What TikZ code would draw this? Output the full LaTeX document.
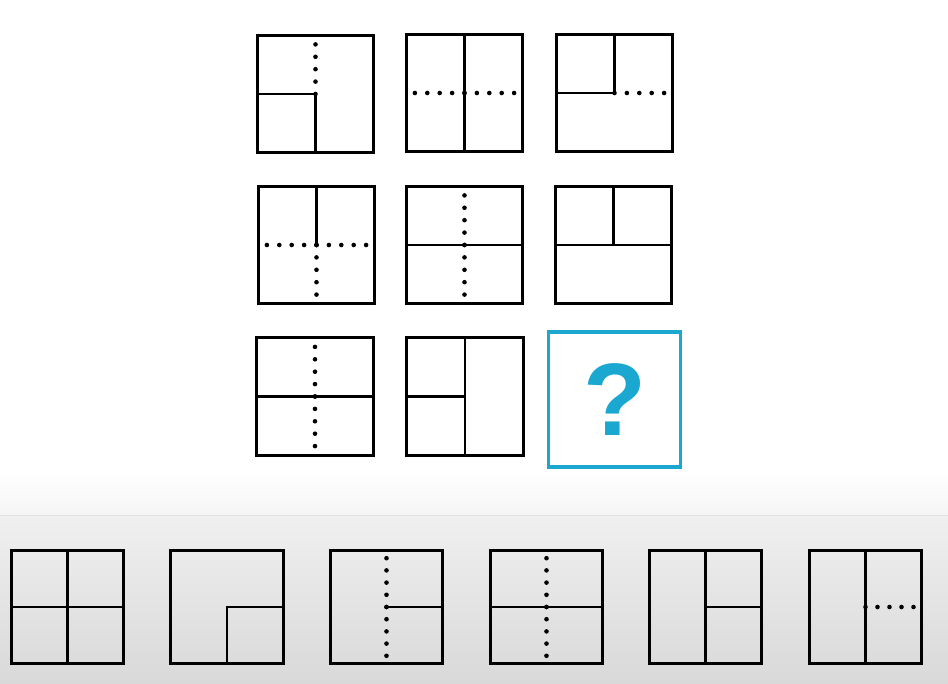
\documentclass[tikz,border=0pt]{standalone}
\usepackage{fontspec}
\setmainfont{Liberation Sans}
\usetikzlibrary{calc}
\definecolor{qblue}{HTML}{1AA8D0}

\begin{document}
\begin{tikzpicture}[
    x = 1pt, y = -1pt,
    line width = 2.6pt,
    cell/.style = {rectangle,
      draw,
      outer sep = 0pt,
      inner sep = 0pt,
      minimum width = 116.5pt,
      minimum height = 117.5pt},
    choice/.style = {cell,
      minimum width = 112.5pt,
      minimum height = 113pt},
    dots/.style = {line width = 4.6pt,
      line cap = round,
      dash pattern = on 0pt off 12.4pt}
    ]
    \useasboundingbox (0, 0) rectangle (948, 684);

    % background of the answer strip
    \shade [top color = white, bottom color = black!4] (0, 470) rectangle (948, 515);
    \shade [top color = black!6, bottom color = black!15] (0, 515) rectangle (948, 684);
    \draw [line width = 1pt, black!12] (0, 515) -- (948, 515);

    % the puzzle
    \node at (315.5, 94) [cell, name = a1] {};
    \node at (464.5, 93) [cell, name = a2] {};
    \node at (614.5, 93) [cell, name = a3] {};
    \node at (316.5, 245) [cell, name = b1] {};
    \node at (464.5, 245) [cell, name = b2] {};
    \node at (613.5, 245) [cell, name = b3] {};
    \node at (315, 396.5) [cell, name = c1] {};
    \node at (465, 396.5) [cell, name = c2] {};
    \node at (614.5, 399.5) [cell, name = q, draw = qblue, text = qblue,
      line width = 3.2pt, minimum width = 132pt, minimum height = 135pt,
      font = \fontsize{103}{103}\selectfont\bfseries] {?};

    \draw (a1.west) -- (a1.center) -- (a1.south);
    \draw [dots] (a1.center) -- ++(0, -50);
    \draw (a2.north) -- (a2.south);
    \draw [dots] (a2.center) -- ++(-50, 0);
    \draw [dots] (a2.center) -- ++(50, 0);
    \draw (a3.north) -- (a3.center) -- (a3.west);
    \draw [dots] (a3.center) -- ++(50, 0);

    \draw (b1.north) -- (b1.center);
    \draw [dots] (b1.center) -- ++(-50, 0);
    \draw [dots] (b1.center) -- ++(50, 0);
    \draw [dots] (b1.center) -- ++(0, 50);
    \draw (b2.west) -- (b2.east);
    \draw [dots] (b2.center) -- ++(0, -50);
    \draw [dots] (b2.center) -- ++(0, 50);
    \draw (b3.west) -- (b3.east);
    \draw (b3.north) -- (b3.center);

    \draw (c1.west) -- (c1.east);
    \draw [dots] (c1.center) -- ++(0, -50);
    \draw [dots] (c1.center) -- ++(0, 50);
    \draw (c2.north) -- (c2.south);
    \draw (c2.west) -- (c2.center);

    % the answers
    \node at (67.5, 607) [choice, name = p1] {};
    \node at (227, 607) [choice, name = p2] {};
    \node at (386.5, 607) [choice, name = p3] {};
    \node at (546.5, 607) [choice, name = p4] {};
    \node at (705.5, 607) [choice, name = p5] {};
    \node at (865.5, 607) [choice, name = p6] {};

    \draw (p1.north) -- (p1.south);
    \draw (p1.west) -- (p1.east);
    \draw (p2.east) -- (p2.center) -- (p2.south);
    \draw (p3.center) -- (p3.east);
    \draw [dots, dash pattern = on 0pt off 12.2pt] (p3.center) -- ++(0, -49);
    \draw [dots, dash pattern = on 0pt off 12.2pt] (p3.center) -- ++(0, 49);
    \draw (p4.west) -- (p4.east);
    \draw [dots, dash pattern = on 0pt off 12.2pt] (p4.center) -- ++(0, -49);
    \draw [dots, dash pattern = on 0pt off 12.2pt] (p4.center) -- ++(0, 49);
    \draw (p5.north) -- (p5.south);
    \draw (p5.center) -- (p5.east);
    \draw (p6.north) -- (p6.south);
    \draw [dots, dash pattern = on 0pt off 12pt] (p6.center) -- ++(49, 0);

  \end{tikzpicture}
\end{document}
